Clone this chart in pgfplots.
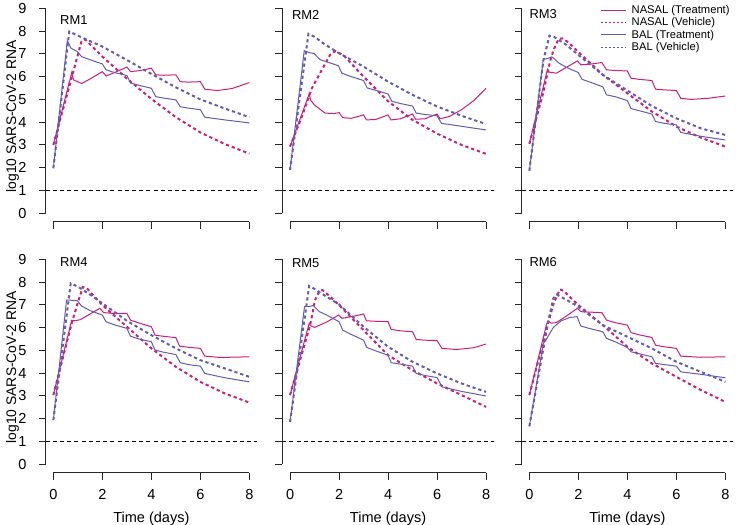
\documentclass[border=0pt]{standalone}
\usepackage{fontspec}
\setmainfont{Liberation Sans}
\usepackage{pgfplots}
\pgfplotsset{compat=1.18}
\definecolor{pk}{RGB}{204,30,122}
\definecolor{bl}{RGB}{98,92,182}
\definecolor{axc}{RGB}{40,40,40}
\pgfplotsset{
  rm/.style={
    scale only axis, width=158.78pt, height=166.05pt,
    anchor=north west,
    xmin=-0.32, xmax=8.32, ymin=-0.36, ymax=9.36,
    axis lines*=left, axis line style={draw=none},
    xtick={0,2,4,6,8}, ytick={0,1,2,3,4,5,6,7,8,9},
    tick align=outside, major tick length=5.25pt,
    tick style={axc, line width=0.75pt},
    ticklabel style={font=\fontsize{10.9}{12}\selectfont},
    xticklabel style={yshift=-3.8pt},
    yticklabel style={xshift=-5.5pt},
    /pgf/number format/assume math mode=true,
    clip=false,
    xlabel style={font=\fontsize{10.9}{12}\selectfont, at={(axis description cs:0.5,-0.207)}, anchor=center},
    ylabel style={font=\fontsize{10.4}{12}\selectfont, at={(axis description cs:-0.156,0.475)}, anchor=center},
    extra description/.code={
      \draw[axc, line width=0.75pt] (0.037037,0) -- (0.962963,0);
      \draw[axc, line width=0.75pt] (0,0.037037) -- (0,0.962963);
    },
  },
  nt/.style={pk, line width=0.75pt},
  nv/.style={pk, line width=1.5pt, dash pattern=on 2.4pt off 2.2pt},
  bt/.style={bl, line width=0.75pt},
  bv/.style={bl, line width=1.5pt, dash pattern=on 2.4pt off 2.2pt},
  hl/.style={black, line width=0.75pt, dash pattern=on 3pt off 2.4pt, forget plot},
}
\tikzset{rmlab/.style={anchor=west, inner sep=0pt, font=\fontsize{9.7}{11}\selectfont}}
\begin{document}
\begin{tikzpicture}
\useasboundingbox (0,0) rectangle (552pt,-393.75pt);
% ---------------- RM1
\begin{axis}[rm, at={(34.13pt,-0.08pt)}, xticklabels={}, ylabel={log10 SARS-CoV-2 RNA}]
\addplot[hl] coordinates {(-0.32,1) (8.32,1)};
\addplot[nt] coordinates {(0,3.0) (0.75,6.18) (0.82,5.86) (1.16,5.7) (1.5,5.9) (2.0,6.22) (2.15,6.03) (2.5,6.18) (3.0,6.42) (3.15,6.22) (3.5,6.26) (4.0,6.37) (4.18,6.08) (4.5,6.06) (5.0,6.08) (5.18,5.78) (5.5,5.76) (6.0,5.78) (6.18,5.45) (6.7,5.39) (7.3,5.48) (8,5.74)};
\addplot[nv] coordinates {(0,3.0) (1.15,7.55) (1.3,7.63) (1.5,7.42) (2.0,6.88) (3.0,5.92) (4.0,5.02) (5.0,4.22) (6.0,3.55) (7.0,3.04) (8.0,2.62)};
\addplot[bt] coordinates {(0,1.98) (0.57,7.58) (0.72,7.25) (0.98,7.1) (1.15,6.88) (1.6,6.7) (2.0,6.56) (2.15,6.3) (2.5,6.18) (3.0,6.05) (3.15,5.72) (3.5,5.62) (4.0,5.49) (4.18,5.12) (4.5,5.06) (5.0,4.98) (5.18,4.68) (5.5,4.62) (6.0,4.55) (6.18,4.22) (7,4.1) (8,3.97)};
\addplot[bv] coordinates {(0,1.98) (0.65,7.98) (1.0,7.8) (2.0,7.32) (3.0,6.73) (4.0,6.12) (5.0,5.53) (6.0,5.0) (7.0,4.6) (8.0,4.22)};
\node[rmlab] at (axis cs:0.27,8.49) {RM1};
\end{axis}
% ---------------- RM2
\begin{axis}[rm, at={(211.65pt,-0.08pt)}, xticklabels={}, yticklabels={}]
\addplot[hl] coordinates {(-0.32,1) (8.32,1)};
\addplot[nt] coordinates {(0,2.93) (0.78,5.24) (0.85,4.95) (1.0,4.75) (1.43,4.4) (1.8,4.38) (2.0,4.42) (2.15,4.2) (2.5,4.17) (3.0,4.32) (3.12,4.1) (3.5,4.12) (4.0,4.32) (4.12,4.1) (4.5,4.15) (5.0,4.36) (5.12,4.13) (5.5,4.15) (6.0,4.36) (6.12,4.15) (6.5,4.25) (7.0,4.55) (7.5,4.95) (8,5.49)};
\addplot[nv] coordinates {(0,2.93) (0.5,4.3) (0.89,5.49) (1.3,6.3) (1.63,6.95) (1.85,7.12) (2.2,6.92) (3.0,6.0) (4.0,4.92) (5.0,4.1) (6.0,3.5) (7.0,3.0) (8.0,2.61)};
\addplot[bt] coordinates {(0,1.9) (0.58,7.14) (0.8,7.05) (0.98,7.02) (1.22,6.75) (1.5,6.65) (1.97,6.48) (2.12,6.15) (2.5,6.0) (3.0,5.83) (3.15,5.5) (3.5,5.4) (4.0,5.24) (4.15,4.92) (4.5,4.82) (5.0,4.71) (5.15,4.4) (5.5,4.34) (6.0,4.28) (6.18,3.95) (7.0,3.82) (8.0,3.66)};
\addplot[bv] coordinates {(0,1.9) (0.75,7.88) (1.0,7.75) (1.36,7.46) (1.9,7.09) (3.0,6.44) (4.0,5.78) (5.0,5.2) (6.0,4.69) (7.0,4.28) (8.0,3.92)};
\node[rmlab] at (axis cs:0.07,8.7) {RM2};
\end{axis}
% ---------------- RM3
\begin{axis}[rm, at={(391.13pt,-0.08pt)}, xticklabels={}, yticklabels={},
  legend style={at={(axis description cs:0.372,0.982)}, anchor=north west, draw=none, fill=none,
    font=\fontsize{8.4}{9}\selectfont, inner sep=0pt, row sep=0pt, nodes={inner sep=0.8pt},
    /tikz/every odd column/.append style={column sep=3pt}},
  legend cell align=left,
  legend image code/.code={\draw[#1] (0pt,0pt) -- (18.75pt,0pt);}]
\addlegendimage{pk, line width=0.75pt}
\addlegendentry{NASAL (Treatment)}
\addlegendimage{pk, line width=0.8pt, dash pattern=on 1.5pt off 1.5pt}
\addlegendentry{NASAL (Vehicle)}
\addlegendimage{bl, line width=0.75pt}
\addlegendentry{BAL (Treatment)}
\addlegendimage{bl, line width=0.8pt, dash pattern=on 1.5pt off 1.5pt}
\addlegendentry{BAL (Vehicle)}
\addplot[hl] coordinates {(-0.32,1) (8.32,1)};
\addplot[nt, forget plot] coordinates {(0,3.05) (0.74,6.32) (0.8,6.2) (1.1,6.15) (1.5,6.4) (1.96,6.69) (2.1,6.52) (2.5,6.55) (2.96,6.62) (3.15,6.3) (3.5,6.27) (4.0,6.25) (4.15,5.93) (4.5,5.88) (5.0,5.83) (5.15,5.45) (5.5,5.42) (6.0,5.39) (6.18,5.05) (6.6,5.0) (7.3,5.05) (8,5.15)};
\addplot[nv, forget plot] coordinates {(0,3.05) (0.57,5.3) (0.85,6.7) (1.0,7.2) (1.19,7.65) (1.35,7.68) (1.6,7.5) (2.0,7.08) (3.0,6.08) (4.0,5.27) (5.0,4.47) (6.0,3.81) (7.0,3.32) (8.0,2.93)};
\addplot[bt, forget plot] coordinates {(0,1.87) (0.57,6.76) (0.75,6.8) (0.91,6.87) (1.0,6.8) (1.2,6.6) (1.53,6.4) (2.0,6.18) (2.15,5.88) (2.5,5.75) (3.0,5.55) (3.15,5.2) (3.5,5.12) (4.0,4.95) (4.15,4.6) (4.5,4.5) (5.0,4.36) (5.15,4.03) (5.5,3.95) (6.0,3.88) (6.18,3.55) (7.0,3.38) (8.0,3.22)};
\addplot[bv, forget plot] coordinates {(0,1.87) (0.57,6.7) (0.82,7.8) (1.0,7.75) (1.5,7.4) (2.0,6.95) (3.0,6.08) (4.0,5.39) (5.0,4.71) (6.0,4.17) (7.0,3.73) (8.0,3.44)};
\node[rmlab] at (axis cs:-0.0,8.75) {RM3};
\end{axis}
% ---------------- RM4
\begin{axis}[rm, at={(34.13pt,-188.33pt)}, xlabel={Time (days)}, ylabel={log10 SARS-CoV-2 RNA}]
\addplot[hl] coordinates {(-0.32,1) (8.32,1)};
\addplot[nt] coordinates {(0,3.04) (0.75,6.33) (0.85,6.3) (1.1,6.35) (1.5,6.6) (1.9,6.85) (2.05,6.66) (2.5,6.62) (3.0,6.63) (3.15,6.33) (3.5,6.2) (4.0,6.04) (4.15,5.67) (4.5,5.62) (5.0,5.56) (5.15,5.19) (5.5,5.14) (6.0,5.09) (6.18,4.75) (6.8,4.69) (8.0,4.72)};
\addplot[nv] coordinates {(0,3.04) (0.75,6.2) (1.0,7.1) (1.2,7.78) (1.35,7.75) (1.6,7.45) (2.0,6.99) (3.0,6.04) (4.0,5.09) (5.0,4.28) (6.0,3.62) (7.0,3.11) (8.0,2.71)};
\addplot[bt] coordinates {(0,1.94) (0.54,7.21) (0.8,7.2) (0.98,7.18) (1.15,6.95) (1.5,6.75) (2.0,6.55) (2.15,6.26) (2.5,6.12) (3.0,5.97) (3.15,5.62) (3.5,5.5) (4.0,5.38) (4.15,5.02) (4.5,4.92) (5.0,4.82) (5.18,4.46) (5.5,4.38) (6.0,4.31) (6.18,3.99) (7.0,3.8) (8.0,3.62)};
\addplot[bv] coordinates {(0,1.94) (0.71,7.95) (1.0,7.8) (1.5,7.45) (2.0,7.07) (3.0,6.3) (4.0,5.67) (5.0,5.09) (6.0,4.57) (7.0,4.21) (8.0,3.84)};
\node[rmlab] at (axis cs:0.27,8.9) {RM4};
\end{axis}
% ---------------- RM5
\begin{axis}[rm, at={(211.65pt,-188.33pt)}, xlabel={Time (days)}, yticklabels={}]
\addplot[hl] coordinates {(-0.32,1) (8.32,1)};
\addplot[nt] coordinates {(0,3.04) (0.78,6.19) (0.85,6.08) (1.0,6.01) (1.5,6.25) (1.98,6.55) (2.12,6.41) (2.5,6.48) (3.0,6.6) (3.12,6.3) (3.5,6.28) (4.0,6.26) (4.13,5.92) (4.5,5.86) (5.0,5.82) (5.15,5.48) (5.5,5.45) (6.0,5.43) (6.2,5.09) (6.8,5.04) (7.5,5.12) (8,5.28)};
\addplot[nv] coordinates {(0,3.04) (0.82,6.11) (1.02,7.2) (1.2,7.62) (1.32,7.65) (1.6,7.4) (2.0,6.99) (3.0,5.89) (4.0,4.79) (5.0,4.13) (6.0,3.55) (7.0,3.04) (8.0,2.52)};
\addplot[bt] coordinates {(0,1.86) (0.59,6.92) (0.8,6.93) (0.95,6.97) (1.2,6.7) (1.5,6.55) (2.0,6.26) (2.15,5.89) (2.5,5.7) (3.0,5.45) (3.13,5.13) (3.5,4.98) (4.0,4.79) (4.13,4.46) (4.5,4.4) (5.0,4.31) (5.15,3.99) (5.5,3.9) (6.0,3.81) (6.2,3.4) (7.0,3.2) (8.0,3.0)};
\addplot[bv] coordinates {(0,1.86) (0.78,7.83) (1.0,7.7) (1.5,7.35) (2.0,7.02) (3.0,6.04) (4.0,5.16) (5.0,4.5) (6.0,3.99) (7.0,3.55) (8.0,3.18)};
\node[rmlab] at (axis cs:0.07,8.83) {RM5};
\end{axis}
% ---------------- RM6
\begin{axis}[rm, at={(391.13pt,-188.33pt)}, xlabel={Time (days)}, yticklabels={}]
\addplot[hl] coordinates {(-0.32,1) (8.32,1)};
\addplot[nt] coordinates {(0,3.04) (0.71,6.19) (0.8,6.26) (0.9,6.2) (1.1,6.22) (1.5,6.5) (1.96,6.85) (2.1,6.7) (2.5,6.68) (2.96,6.66) (3.15,6.33) (3.5,6.22) (4.0,6.11) (4.15,5.78) (4.5,5.68) (5.0,5.57) (5.15,5.23) (5.5,5.16) (6.0,5.09) (6.18,4.75) (7.0,4.7) (8.0,4.72)};
\addplot[nv] coordinates {(0,3.04) (0.78,6.26) (1.0,7.1) (1.25,7.68) (1.4,7.62) (1.6,7.4) (2.0,6.99) (3.0,6.11) (4.0,5.16) (5.0,4.43) (6.0,3.84) (7.0,3.26) (8.0,2.74)};
\addplot[bt] coordinates {(0,1.67) (0.57,5.3) (0.7,5.5) (0.98,6.01) (1.3,6.3) (1.66,6.45) (1.95,6.48) (2.1,6.07) (2.5,5.95) (3.0,5.82) (3.15,5.53) (3.5,5.38) (4.0,5.13) (4.15,4.94) (4.5,4.85) (5.0,4.72) (5.15,4.43) (5.5,4.38) (6.0,4.31) (6.18,4.06) (7.0,3.95) (8.0,3.8)};
\addplot[bv] coordinates {(0,1.67) (0.78,6.33) (0.98,7.29) (1.12,7.45) (1.53,7.21) (2.0,6.92) (3.0,6.11) (4.0,5.6) (5.0,5.09) (6.0,4.5) (7.0,4.06) (8.0,3.62)};
\node[rmlab] at (axis cs:0.0,8.86) {RM6};
\end{axis}
\end{tikzpicture}
\end{document}
